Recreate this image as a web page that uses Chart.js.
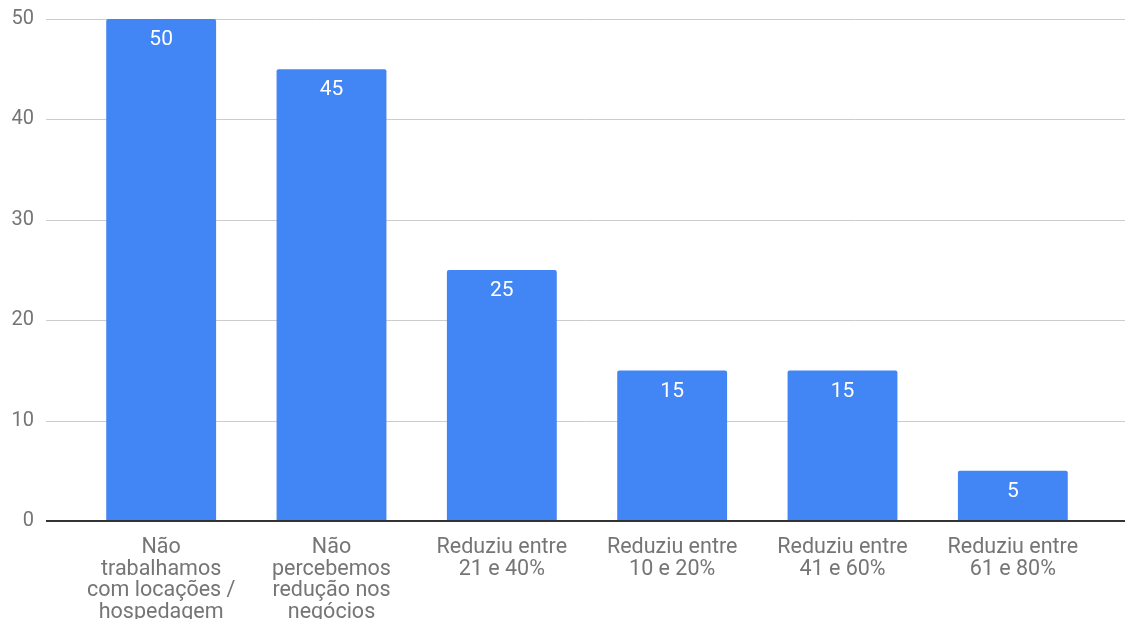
<!DOCTYPE html>
<html>
<head>
<meta charset="utf-8">
<script src="https://cdn.jsdelivr.net/npm/chart.js@4.4.1/dist/chart.umd.min.js"></script>
<style>
  body { margin: 0; background: #fff; }
  #wrap { width: 1125px; height: 619px; }
</style>
</head>
<body>
<div id="wrap"><canvas id="barChart"></canvas></div>
<script>
const categories = [
  ['Não', 'trabalhamos', 'com locações /', 'hospedagem'],
  ['Não', 'percebemos', 'redução nos', 'negócios'],
  ['Reduziu entre', '21 e 40%'],
  ['Reduziu entre', '10 e 20%'],
  ['Reduziu entre', '41 e 60%'],
  ['Reduziu entre', '61 e 80%']
];
const values = [50, 45, 25, 15, 15, 5];
const yTicks = [0, 10, 20, 30, 40, 50];

// horizontal grid lines run a little past the bars on both sides
const gridLines = {
  id: 'gridLines',
  beforeDatasetsDraw(chart) {
    const { ctx, chartArea, scales: { y } } = chart;
    ctx.save();
    ctx.strokeStyle = '#cccccc';
    ctx.lineWidth = 1;
    yTicks.forEach(v => {
      if (v === 0) return;
      const py = Math.round(y.getPixelForValue(v)) + 0.5;
      ctx.beginPath();
      ctx.moveTo(chartArea.left - 30, py);
      ctx.lineTo(chart.width, py);
      ctx.stroke();
    });
    ctx.restore();
  },
  afterDatasetsDraw(chart) {
    const { ctx, chartArea, scales: { y } } = chart;
    ctx.save();
    // baseline
    ctx.strokeStyle = '#333333';
    ctx.lineWidth = 2;
    const py = y.getPixelForValue(0);
    ctx.beginPath();
    ctx.moveTo(chartArea.left - 30, py);
    ctx.lineTo(chart.width, py);
    ctx.stroke();
    // value labels inside the bar tops
    ctx.fillStyle = '#ffffff';
    ctx.font = '21px Roboto';
    ctx.textAlign = 'center';
    ctx.textBaseline = 'middle';
    chart.getDatasetMeta(0).data.forEach((bar, i) => {
      ctx.fillText(String(values[i]), bar.x, bar.y + 21);
    });
    ctx.restore();
  }
};

new Chart(document.getElementById('barChart'), {
  type: 'bar',
  data: {
    labels: categories,
    datasets: [{
      data: values,
      backgroundColor: '#4285f4',
      borderRadius: 2,
      borderSkipped: 'bottom',
      categoryPercentage: 1,
      barPercentage: 0.645
    }]
  },
  options: {
    responsive: true,
    maintainAspectRatio: false,
    animation: false,
    layout: { padding: { top: 19, right: 27 } },
    plugins: {
      legend: { display: false },
      tooltip: { enabled: false }
    },
    scales: {
      x: {
        grid: { display: false },
        border: { display: false },
        ticks: {
          color: '#757575',
          font: { family: 'Roboto', size: 21.5, lineHeight: 1 },
          padding: 8,
          maxRotation: 0,
          autoSkip: false
        },
        afterFit(scale) { scale.height = 98; }
      },
      y: {
        min: 0,
        max: 50,
        grid: { display: false },
        border: { display: false },
        ticks: {
          stepSize: 10,
          color: '#757575',
          font: { family: 'Roboto', size: 20 },
          padding: 34
        },
        afterFit(scale) {
          // wide label gap, but keep the plot top where the layout puts it
          scale.width = 76;
          scale.paddingTop = 0;
          scale.paddingBottom = 0;
        }
      }
    }
  },
  plugins: [gridLines]
});
</script>
</body>
</html>
